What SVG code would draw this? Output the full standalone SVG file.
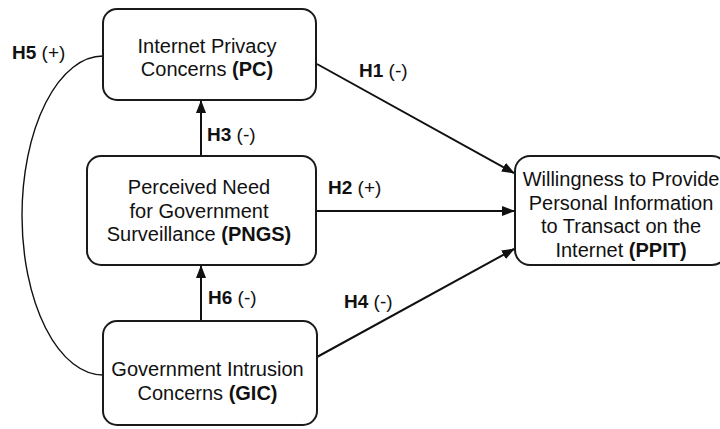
<svg xmlns="http://www.w3.org/2000/svg" width="720" height="429" viewBox="0 0 720 429">
<style>
.box{fill:#fff;stroke:#1a1a1a;stroke-width:2}
.t{font-family:"Liberation Sans",Arial,sans-serif;font-size:20px;fill:#111;text-anchor:middle}
.l{font-family:"Liberation Sans",Arial,sans-serif;font-size:19px;fill:#111}
.b{font-weight:bold}
.c{fill:none;stroke:#111;stroke-width:2}
.arc{fill:none;stroke:#111;stroke-width:1.4}
</style>
<defs>
<marker id="ah" markerUnits="userSpaceOnUse" markerWidth="13" markerHeight="10" refX="12" refY="5" orient="auto">
<path d="M0,0 L13,5 L0,10 z" fill="#111"/>
</marker>
</defs>
<rect width="720" height="429" fill="#fff"/>
<g id="connectors">
<line class="c" x1="201" y1="156" x2="201" y2="101" marker-end="url(#ah)"/>
<line class="c" x1="201" y1="321" x2="201" y2="266" marker-end="url(#ah)"/>
<line class="c" x1="317" y1="64" x2="514" y2="173" marker-end="url(#ah)"/>
<line class="c" x1="317" y1="211" x2="514" y2="211" marker-end="url(#ah)"/>
<line class="c" x1="317" y1="357" x2="514" y2="249" marker-end="url(#ah)"/>
<path class="arc" d="M103,56 A81,159.5 0 0 0 103,375"/>
</g>
<g id="labels">
<text class="l" x="12" y="59"><tspan class="b">H5</tspan> (+)</text>
<text class="l" x="207" y="141"><tspan class="b">H3</tspan> (-)</text>
<text class="l" x="359" y="76.5"><tspan class="b">H1</tspan> (-)</text>
<text class="l" x="328" y="194"><tspan class="b">H2</tspan> (+)</text>
<text class="l" x="344" y="308"><tspan class="b">H4</tspan> (-)</text>
<text class="l" x="208" y="304"><tspan class="b">H6</tspan> (-)</text>
</g>
<g id="PC">
<rect class="box" x="103" y="9" width="213" height="91" rx="14"/>
<text class="t" x="207" y="52.5">Internet Privacy</text>
<text class="t" x="207" y="76">Concerns <tspan class="b">(PC)</tspan></text>
</g>
<g id="PNGS">
<rect class="box" x="87" y="156" width="229" height="109" rx="14"/>
<text class="t" x="199" y="194">Perceived Need</text>
<text class="t" x="199" y="217.5">for Government</text>
<text class="t" x="199" y="241">Surveillance <tspan class="b">(PNGS)</tspan></text>
</g>
<g id="GIC">
<rect class="box" x="103" y="321" width="214" height="104" rx="14"/>
<text class="t" x="207.5" y="376">Government Intrusion</text>
<text class="t" x="207.5" y="399.5">Concerns <tspan class="b">(GIC)</tspan></text>
</g>
<g id="PPIT">
<rect class="box" x="515" y="156" width="212" height="109" rx="15"/>
<text class="t" x="621" y="186">Willingness to Provide</text>
<text class="t" x="621" y="209.5">Personal Information</text>
<text class="t" x="621" y="233">to Transact on the</text>
<text class="t" x="621" y="256.5">Internet <tspan class="b">(PPIT)</tspan></text>
</g>
</svg>
